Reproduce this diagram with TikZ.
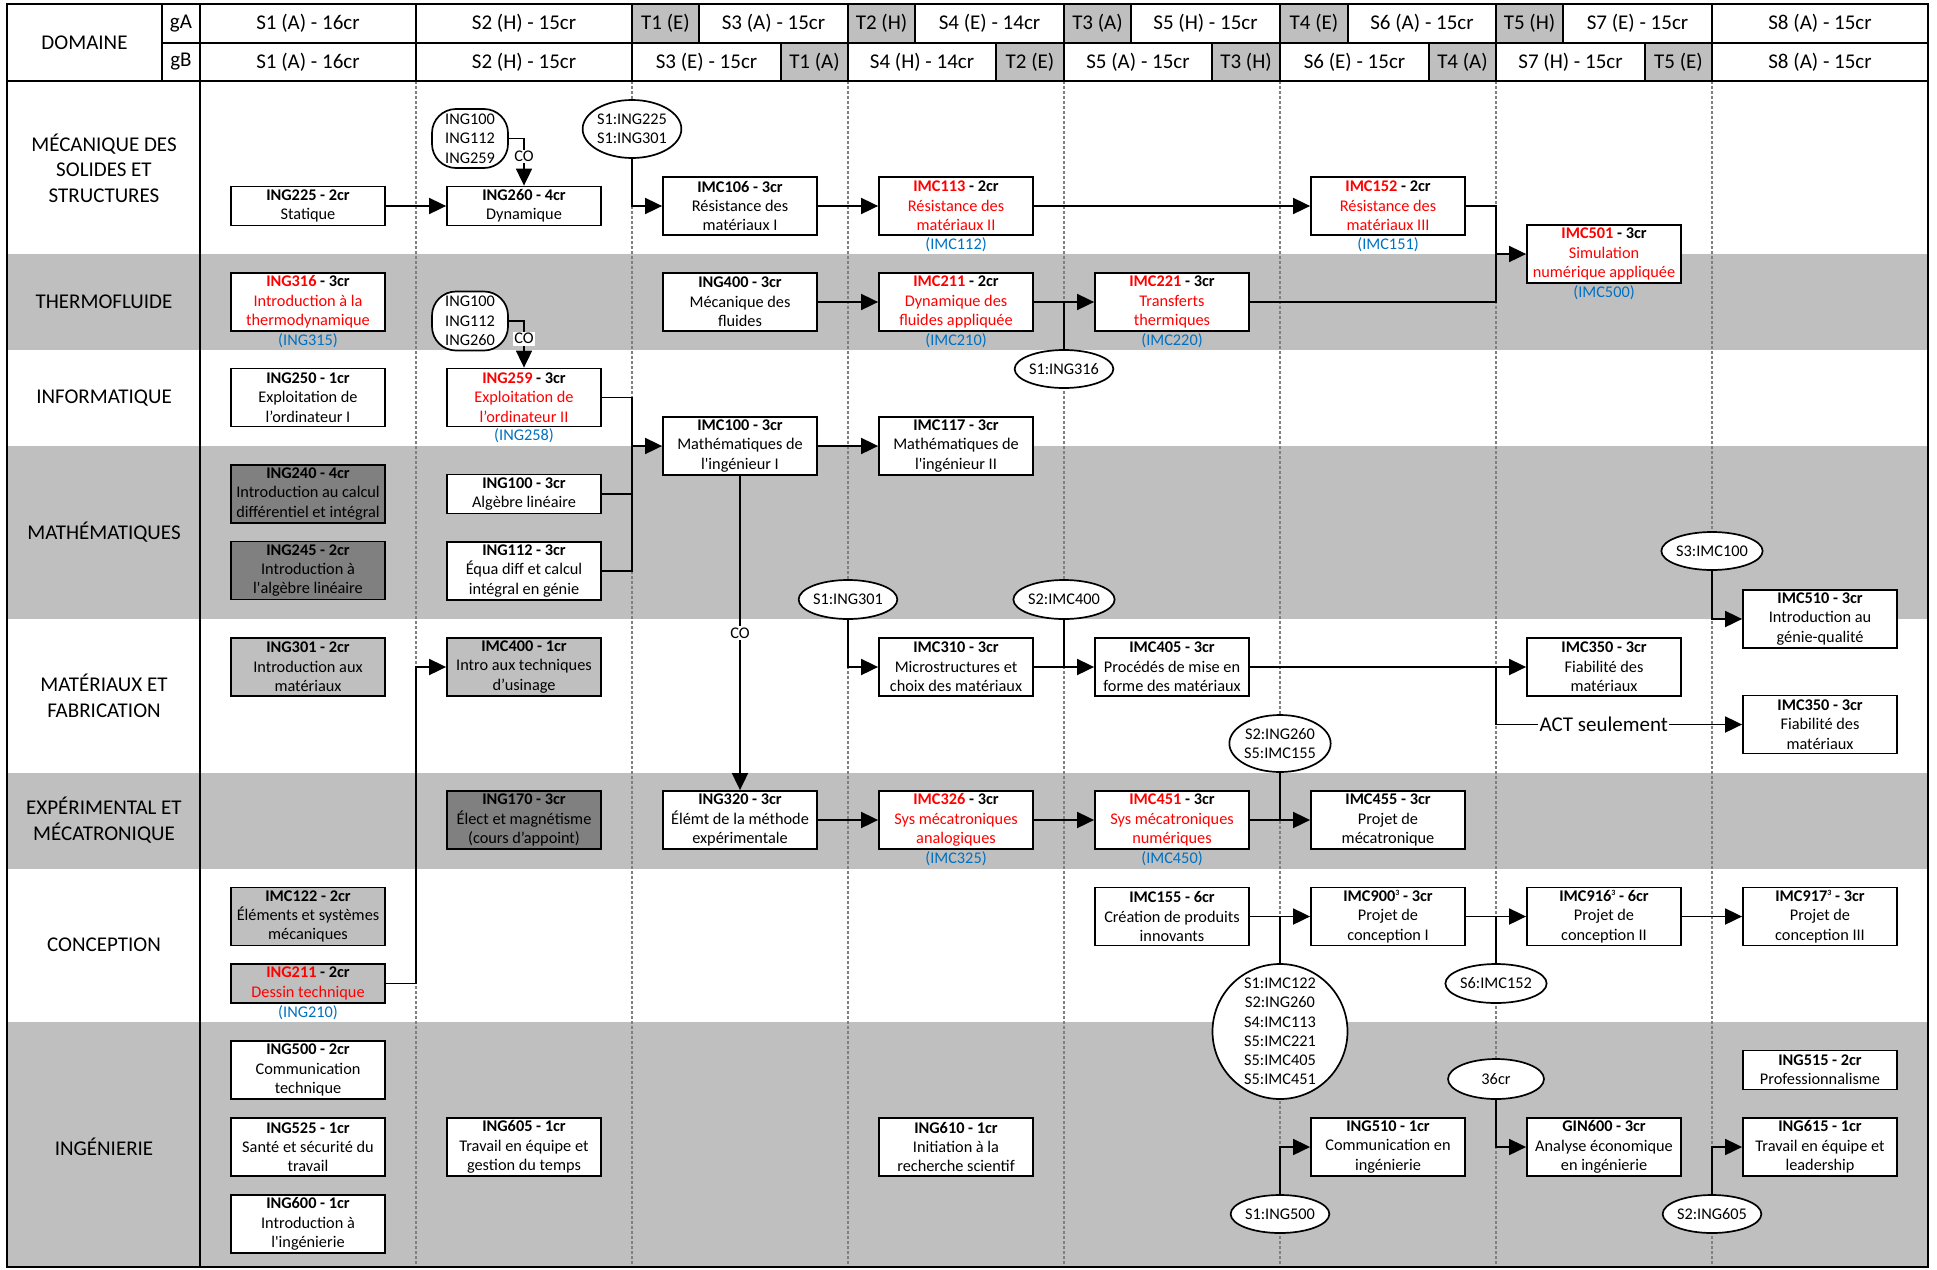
\documentclass[tikz,border=0pt]{standalone}
\usepackage{fontspec}
\newfontfamily\carl{Carlito}
\usetikzlibrary{arrows.meta,shapes.geometric}
\definecolor{bandgray}{RGB}{191,191,191}
\definecolor{darkbox}{RGB}{128,128,128}
\definecolor{midbox}{RGB}{191,191,191}
\definecolor{noteblue}{RGB}{0,112,192}
\definecolor{redc}{RGB}{255,0,0}
\definecolor{dashgray}{RGB}{128,128,128}
\newcommand\fBox{\carl\fontsize{16.3}{19.3}\selectfont}
\newcommand\fHead{\carl\fontsize{21}{25.5}\selectfont}
\newcommand\rd[1]{\textcolor{redc}{#1}}
\newcommand\supr[1]{\raisebox{0.75ex}{\fontsize{8}{8}\selectfont #1}}
\newcommand\hcell[7]{\draw[hdrline,fill=#6] (#2,#4) rectangle (#3,#5); \node[hdrtxt] (#1) at ({(#2+#3)/2},{(#4+#5)/2}) {#7};}
\begin{document}
\begin{tikzpicture}[x=1pt,y=-1pt,
  hdrline/.style={draw=black,line width=1.7pt},
  hdrtxt/.style={font=\fHead,inner sep=0pt},
  dom/.style={font=\fHead,align=center,inner sep=0pt},
  box/.style={draw,line width=1.8pt,fill=white,inner sep=0pt,minimum width=154pt,align=center,font=\fBox},
  bb2/.style={box,minimum height=39pt},
  bb3/.style={box,minimum height=58pt},
  note/.style={font=\fBox,text=noteblue,inner sep=0pt},
  ell/.style={ellipse,draw,line width=1.7pt,fill=white,inner sep=0pt,align=center,font=\fBox,minimum width=96pt,minimum height=39pt},
  stad/.style={draw,line width=1.7pt,fill=white,rounded corners=24pt,inner sep=0pt,align=center,font=\fBox,minimum width=76pt,minimum height=59pt},
  ln/.style={line width=1.8pt},
  arr/.style={line width=1.8pt,-{Triangle[length=17pt,width=16pt]}},
  lbl/.style={font=\fBox,fill=white,inner sep=1.5pt},
  actlbl/.style={font=\fHead,fill=white,inner sep=1.5pt},
  vdash/.style={draw=dashgray,line width=1.2pt,dash pattern=on 3pt off 2pt}
]
\useasboundingbox (0,0) rectangle (1937,1269);
% bands
\fill[bandgray] (7,254) rectangle (1928,350);
\fill[bandgray] (7,446) rectangle (1928,619);
\fill[bandgray] (7,773) rectangle (1928,869);
\fill[bandgray] (7,1022) rectangle (1928,1267);
% dashed semester lines
\coordinate (v1) at (416,81);
\coordinate (v2) at (632,81);
\coordinate (v3) at (848,81);
\coordinate (v4) at (1064,81);
\coordinate (v5) at (1280,81);
\coordinate (v6) at (1496,81);
\coordinate (v7) at (1712,81);
\foreach \x in {416,632,848,1064,1280,1496,1712} {\draw[vdash] (\x,81) -- (\x,1267);}
% header
\hcell{hDom}{7}{162}{4}{81}{white}{DOMAINE}
\hcell{hgA}{162}{200}{4}{43}{white}{gA}
\hcell{hgB}{162}{200}{43}{81}{white}{gB}
\hcell{gA1}{200}{416}{4}{43}{white}{S1 (A) - 16cr}
\hcell{gA2}{416}{632}{4}{43}{white}{S2 (H) - 15cr}
\hcell{gAT1}{632}{699}{4}{43}{bandgray}{T1 (E)}
\hcell{gA3}{699}{848}{4}{43}{white}{S3 (A) - 15cr}
\hcell{gAT2}{848}{915}{4}{43}{bandgray}{T2 (H)}
\hcell{gA4}{915}{1064}{4}{43}{white}{S4 (E) - 14cr}
\hcell{gAT3}{1064}{1131}{4}{43}{bandgray}{T3 (A)}
\hcell{gA5}{1131}{1280}{4}{43}{white}{S5 (H) - 15cr}
\hcell{gAT4}{1280}{1348}{4}{43}{bandgray}{T4 (E)}
\hcell{gA6}{1348}{1496}{4}{43}{white}{S6 (A) - 15cr}
\hcell{gAT5}{1496}{1563}{4}{43}{bandgray}{T5 (H)}
\hcell{gA7}{1563}{1712}{4}{43}{white}{S7 (E) - 15cr}
\hcell{gA8}{1712}{1928}{4}{43}{white}{S8 (A) - 15cr}
\hcell{gB1}{200}{416}{43}{81}{white}{S1 (A) - 16cr}
\hcell{gB2}{416}{632}{43}{81}{white}{S2 (H) - 15cr}
\hcell{gB3}{632}{781}{43}{81}{white}{S3 (E) - 15cr}
\hcell{gBT1}{781}{848}{43}{81}{bandgray}{T1 (A)}
\hcell{gB4}{848}{996}{43}{81}{white}{S4 (H) - 14cr}
\hcell{gBT2}{996}{1064}{43}{81}{bandgray}{T2 (E)}
\hcell{gB5}{1064}{1212}{43}{81}{white}{S5 (A) - 15cr}
\hcell{gBT3}{1212}{1280}{43}{81}{bandgray}{T3 (H)}
\hcell{gB6}{1280}{1429}{43}{81}{white}{S6 (E) - 15cr}
\hcell{gBT4}{1429}{1496}{43}{81}{bandgray}{T4 (A)}
\hcell{gB7}{1496}{1645}{43}{81}{white}{S7 (H) - 15cr}
\hcell{gBT5}{1645}{1712}{43}{81}{bandgray}{T5 (E)}
\hcell{gB8}{1712}{1928}{43}{81}{white}{S8 (A) - 15cr}
% frame
\draw[line width=2.3pt] (7,4) rectangle (1928,1267);
\draw[line width=2.3pt] (200,4) -- (200,1267);
\draw[line width=2.3pt] (7,81) -- (1928,81);
% domains
\node[dom] (dMec) at (104,168) {MÉCANIQUE DES\\SOLIDES ET\\STRUCTURES};
\node[dom] (dTher) at (104,302) {THERMOFLUIDE};
\node[dom] (dInfo) at (104,398) {INFORMATIQUE};
\node[dom] (dMath) at (104,532) {MATHÉMATIQUES};
\node[dom] (dMat) at (104,696) {MATÉRIAUX ET\\FABRICATION};
\node[dom] (dExp) at (104,820) {EXPÉRIMENTAL ET\\MÉCATRONIQUE};
\node[dom] (dConc) at (104,945) {CONCEPTION};
\node[dom] (dIng) at (104,1147) {INGÉNIERIE};
% column 1
\node[bb2] (ING225) at (308,206) {\textbf{ING225 - 2cr}\\Statique};
\node[bb3] (ING316) at (308,302) {\textbf{\rd{ING316} - 3cr}\\\rd{Introduction à la}\\\rd{thermodynamique}};
\node[note] (nING316) at (308,341) {(ING315)};
\node[bb3] (ING250) at (308,397.5) {\textbf{ING250 - 1cr}\\Exploitation de\\l’ordinateur I};
\node[bb3,fill=darkbox] (ING240) at (308,494) {\textbf{ING240 - 4cr}\\Introduction au calcul\\différentiel et intégral};
\node[bb3,fill=darkbox] (ING245) at (308,570.5) {\textbf{ING245 - 2cr}\\Introduction à\\l'algèbre linéaire};
\node[bb3,fill=midbox] (ING301) at (308,667) {\textbf{ING301 - 2cr}\\Introduction aux\\matériaux};
\node[bb3,fill=midbox] (IMC122) at (308,916.5) {\textbf{IMC122 - 2cr}\\Éléments et systèmes\\mécaniques};
\node[bb2,fill=midbox] (ING211) at (308,983.5) {\textbf{\rd{ING211} - 2cr}\\\rd{Dessin technique}};
\node[note] (nING211) at (308,1013) {(ING210)};
\node[bb3] (ING500) at (308,1070) {\textbf{ING500 - 2cr}\\Communication\\technique};
\node[bb3] (ING525) at (308,1147) {\textbf{ING525 - 1cr}\\Santé et sécurité du\\travail};
\node[bb3] (ING600) at (308,1224) {\textbf{ING600 - 1cr}\\Introduction à\\l'ingénierie};
% column 2
\node[stad] (stA) at (470,138.5) {ING100\\ING112\\ING259};
\node[stad] (stB) at (470,321) {ING100\\ING112\\ING260};
\node[bb2] (ING260) at (524,206) {\textbf{ING260 - 4cr}\\Dynamique};
\node[bb3] (ING259) at (524,397.5) {\textbf{\rd{ING259} - 3cr}\\\rd{Exploitation de}\\\rd{l’ordinateur II}};
\node[note] (nING259) at (524,436) {(ING258)};
\node[bb2] (ING100) at (524,494) {\textbf{ING100 - 3cr}\\Algèbre linéaire};
\node[bb3] (ING112) at (524,571) {\textbf{ING112 - 3cr}\\Équa diff et calcul\\intégral en génie};
\node[bb3,fill=midbox] (IMC400) at (524,667) {\textbf{IMC400 - 1cr}\\Intro aux techniques\\d’usinage};
\node[bb3,fill=darkbox] (ING170) at (524,820) {\textbf{ING170 - 3cr}\\Élect et magnétisme\\(cours d’appoint)};
\node[bb3] (ING605) at (524,1147) {\textbf{ING605 - 1cr}\\Travail en équipe et\\gestion du temps};
% column 3
\node[ell,minimum height=58pt] (e225) at (632,129) {S1:ING225\\S1:ING301};
\node[bb3] (IMC106) at (740,206) {\textbf{IMC106 - 3cr}\\Résistance des\\matériaux I};
\node[bb3] (ING400) at (740,302) {\textbf{ING400 - 3cr}\\Mécanique des\\fluides};
\node[bb3] (IMC100) at (740,446) {\textbf{IMC100 - 3cr}\\Mathématiques de\\l'ingénieur I};
\node[bb3] (ING320) at (740,820) {\textbf{ING320 - 3cr}\\Élémt de la méthode\\expérimentale};
% column 4
\node[ell] (e301) at (848,599.5) {S1:ING301};
\node[bb3] (IMC113) at (956,206) {\textbf{\rd{IMC113} - 2cr}\\\rd{Résistance des}\\\rd{matériaux II}};
\node[note] (nIMC113) at (956,245) {(IMC112)};
\node[bb3] (IMC211) at (956,302) {\textbf{\rd{IMC211} - 2cr}\\\rd{Dynamique des}\\\rd{fluides appliquée}};
\node[note] (nIMC211) at (956,341) {(IMC210)};
\node[bb3] (IMC117) at (956,446) {\textbf{IMC117 - 3cr}\\Mathématiques de\\l'ingénieur II};
\node[bb3] (IMC310) at (956,667) {\textbf{IMC310 - 3cr}\\Microstructures et\\choix des matériaux};
\node[bb3] (IMC326) at (956,820) {\textbf{\rd{IMC326} - 3cr}\\\rd{Sys mécatroniques}\\\rd{analogiques}};
\node[note] (nIMC326) at (956,859) {(IMC325)};
\node[bb3] (ING610) at (956,1147) {\textbf{ING610 - 1cr}\\Initiation à la\\recherche scientif};
% column 5
\node[ell,minimum height=38pt] (e316) at (1064,369) {S1:ING316};
\node[ell] (eC400) at (1064,599.5) {S2:IMC400};
\node[bb3] (IMC221) at (1172,302) {\textbf{\rd{IMC221} - 3cr}\\\rd{Transferts}\\\rd{thermiques}};
\node[note] (nIMC221) at (1172,341) {(IMC220)};
\node[bb3] (IMC405) at (1172,667) {\textbf{IMC405 - 3cr}\\Procédés de mise en\\forme des matériaux};
\node[bb3] (IMC451) at (1172,820) {\textbf{\rd{IMC451} - 3cr}\\\rd{Sys mécatroniques}\\\rd{numériques}};
\node[note] (nIMC451) at (1172,859) {(IMC450)};
\node[bb3] (IMC155) at (1172,916.5) {\textbf{IMC155 - 6cr}\\Création de produits\\innovants};
% column 6
\node[ell,minimum height=57pt] (e260) at (1280,743.5) {S2:ING260\\S5:IMC155};
\node[circle,draw,line width=1.7pt,fill=white,inner sep=0pt,align=center,font=\fBox,minimum size=135pt] (cS) at (1280,1031.5) {S1:IMC122\\S2:ING260\\S4:IMC113\\S5:IMC221\\S5:IMC405\\S5:IMC451};
\node[ell,minimum height=38pt] (e500) at (1280,1214) {S1:ING500};
\node[bb3] (IMC152) at (1388,206) {\textbf{\rd{IMC152} - 2cr}\\\rd{Résistance des}\\\rd{matériaux III}};
\node[note] (nIMC152) at (1388,245) {(IMC151)};
\node[bb3] (IMC455) at (1388,820) {\textbf{IMC455 - 3cr}\\Projet de\\mécatronique};
\node[bb3] (IMC900) at (1388,916.5) {\textbf{IMC900\supr{3} - 3cr}\\Projet de\\conception I};
\node[bb3] (ING510) at (1388,1147) {\textbf{ING510 - 1cr}\\Communication en\\ingénierie};
% column 7
\node[ell] (e152) at (1496,983.5) {S6:IMC152};
\node[ell,minimum height=40pt] (e36) at (1496,1079) {36cr};
\node[bb3] (IMC501) at (1604,254) {\textbf{\rd{IMC501} - 3cr}\\\rd{Simulation}\\\rd{numérique appliquée}};
\node[note] (nIMC501) at (1604,293) {(IMC500)};
\node[bb3] (IMC350a) at (1604,667) {\textbf{IMC350 - 3cr}\\Fiabilité des\\matériaux};
\node[bb3] (IMC916) at (1604,916.5) {\textbf{IMC916\supr{3} - 6cr}\\Projet de\\conception II};
\node[bb3] (GIN600) at (1604,1147) {\textbf{GIN600 - 3cr}\\Analyse économique\\en ingénierie};
% column 8
\node[ell,minimum height=38pt] (e100) at (1712,551) {S3:IMC100};
\node[ell,minimum height=38pt] (e605) at (1712,1214) {S2:ING605};
\node[bb3] (IMC510) at (1820,619) {\textbf{IMC510 - 3cr}\\Introduction au\\génie-qualité};
\node[bb3] (IMC350b) at (1820,724.5) {\textbf{IMC350 - 3cr}\\Fiabilité des\\matériaux};
\node[bb3] (IMC917) at (1820,916.5) {\textbf{IMC917\supr{3} - 3cr}\\Projet de\\conception III};
\node[bb2] (ING515) at (1820,1070) {\textbf{ING515 - 2cr}\\Professionnalisme};
\node[bb3] (ING615) at (1820,1147) {\textbf{ING615 - 1cr}\\Travail en équipe et\\leadership};
% connectors
\draw[arr] (ING225) -- (ING260);
\draw[arr] (stA.east) -| node[lbl,pos=0.69]{CO} (ING260.north);
\draw[arr] (stB.east) -| node[lbl,pos=0.69]{CO} (ING259.north);
\draw[arr] (e225.south) |- (IMC106.west);
\draw[arr] (IMC106) -- (IMC113);
\draw[arr] (IMC113) -- (IMC152);
\draw[arr] (ING400) -- (IMC211);
\draw[arr] (IMC211) -- (IMC221);
\draw[ln] (e316.north) -- (e316.north |- IMC221.west);
\coordinate (jS) at (v6 |- IMC501.west);
\draw[ln] (IMC152.east) -| (jS);
\draw[ln] (IMC221.east) -| (jS);
\draw[arr] (jS) -- (IMC501.west);
\coordinate (jM) at (v2 |- IMC100.west);
\draw[ln] (ING259.east) -| (jM);
\draw[ln] (ING100.east) -| (jM);
\draw[ln] (ING112.east) -| (jM);
\draw[arr] (jM) -- (IMC100.west);
\draw[arr] (IMC100) -- (IMC117);
\draw[arr] (IMC100.south) -- node[lbl,midway]{CO} (ING320.north);
\draw[arr] (e301.south) |- (IMC310.west);
\draw[arr] (IMC310) -- (IMC405);
\draw[ln] (eC400.south) -- (eC400.south |- IMC405.west);
\draw[arr] (IMC405) -- (IMC350a);
\draw[arr] (IMC405.east -| v6) |- node[actlbl,pos=0.719]{ACT seulement} (IMC350b.west);
\draw[arr] (e100.south) |- (IMC510.west);
\draw[arr] (ING211.east) -- (ING211.east -| v1) |- (IMC400.west);
\draw[arr] (ING320) -- (IMC326);
\draw[arr] (IMC326) -- (IMC451);
\draw[arr] (IMC451) -- (IMC455);
\draw[ln] (e260.south) -- (e260.south |- IMC455.west);
\draw[arr] (IMC155) -- (IMC900);
\draw[ln] (cS.north) -- (cS.north |- IMC900.west);
\draw[arr] (IMC900) -- (IMC916);
\draw[ln] (e152.north) -- (e152.north |- IMC916.west);
\draw[arr] (IMC916) -- (IMC917);
\draw[arr] (e500.north) |- (ING510.west);
\draw[arr] (e36.south) |- (GIN600.west);
\draw[arr] (e605.north) |- (ING615.west);
\end{tikzpicture}
\end{document}
